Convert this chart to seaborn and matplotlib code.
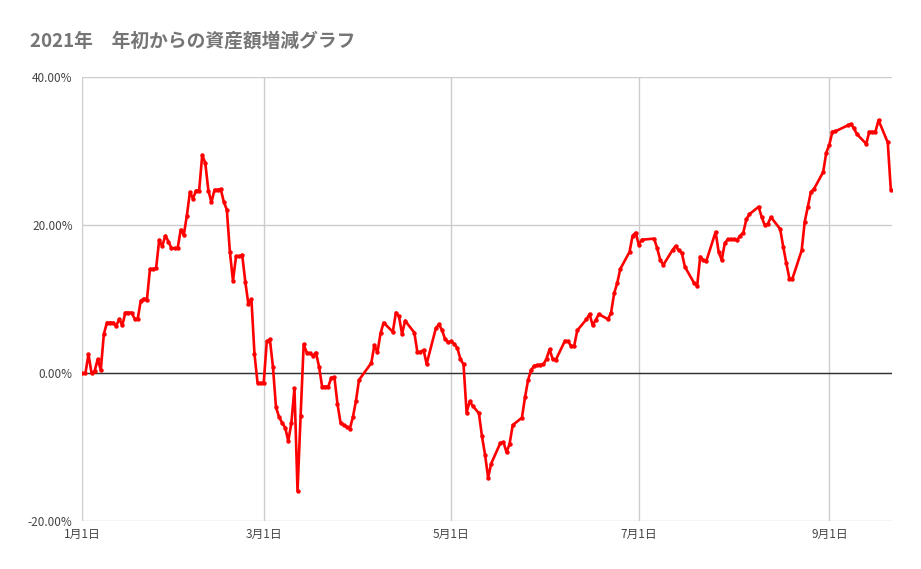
import pandas as pd
import numpy as np
import seaborn as sns
import matplotlib.pyplot as plt
import matplotlib.dates as mdates
from matplotlib.ticker import FuncFormatter

# days since 2021-01-01 and the change in assets (%)
days = [0, 1, 2, 3, 4, 5, 6, 7, 8, 9, 10, 11, 12, 13, 14, 15, 16, 17, 18, 19,
        20, 21, 22, 23, 24, 25, 26, 27, 28, 29, 30, 31, 32, 33, 34, 35, 36, 37, 38, 39,
        40, 41, 42, 43, 44, 45, 46, 47, 48, 49, 50, 51, 52, 53, 54, 55, 56, 57, 58, 59,
        60, 61, 62, 63, 64, 65, 66, 67, 68, 69, 70, 71, 72, 73, 74, 75, 76, 77, 78, 79,
        80, 81, 82, 83, 84, 85, 86, 87, 88, 89, 90, 94, 95, 96, 97, 98, 101, 102, 103, 104,
        105, 108, 109, 110, 111, 112, 115, 116, 117, 118, 119, 120, 121, 122, 123, 124, 125, 126, 127, 129,
        130, 131, 132, 133, 136, 137, 138, 139, 140, 143, 144, 145, 146, 147, 148, 149, 150, 151, 152, 153,
        154, 157, 158, 159, 160, 161, 164, 165, 166, 167, 168, 171, 172, 173, 174, 175, 178, 179, 180, 181,
        182, 186, 187, 188, 189, 192, 193, 194, 195, 196, 199, 200, 201, 202, 203, 206, 207, 208, 209, 210,
        211, 212, 213, 214, 215, 216, 217, 220, 221, 222, 223, 224, 227, 228, 229, 230, 231, 234, 235, 236,
        237, 238, 241, 242, 243, 244, 245, 249, 250, 251, 252, 255, 256, 257, 258, 259, 262, 263]
change = [0.0, 0.0, 2.57, 0.0, 0.3, 1.9, 0.45, 5.3, 6.85, 6.85, 6.85, 6.4, 7.3, 6.5, 8.2, 8.2, 8.2, 7.4, 7.3, 9.8,
          10.1, 9.9, 14.1, 14.1, 14.2, 18.0, 17.2, 18.6, 17.8, 16.9, 16.9, 16.9, 19.4, 18.7, 21.3, 24.5, 23.6, 24.7, 24.7, 29.5,
          28.4, 24.7, 23.1, 24.8, 24.8, 24.9, 23.2, 22.1, 16.4, 12.5, 15.8, 15.8, 16.0, 12.4, 9.4, 10.0, 2.6, -1.3, -1.3, -1.3,
          4.3, 4.6, 0.9, -4.6, -5.9, -6.7, -7.35, -9.15, -6.7, -2.0, -15.9, -5.8, 3.9, 2.8, 2.7, 2.4, 2.8, 0.9, -1.8, -1.8,
          -1.8, -0.6, -0.55, -4.15, -6.7, -7.0, -7.2, -7.5, -5.95, -3.75, -0.9, 1.4, 3.8, 2.83, 5.4, 6.84, 5.6, 8.2, 7.7, 5.3,
          7.1, 5.5, 2.83, 2.9, 3.15, 1.26, 6.1, 6.6, 5.85, 4.6, 4.2, 4.3, 3.96, 3.4, 1.9, 1.2, -5.3, -3.8, -4.4, -5.4,
          -8.5, -11.0, -14.1, -12.2, -9.4, -9.3, -10.7, -9.5, -7.0, -6.0, -3.25, -0.9, 0.45, 1.0, 1.08, 1.17, 1.2, 2.0, 3.25, 1.9,
          1.8, 4.4, 4.3, 3.7, 3.7, 5.8, 7.3, 8.0, 6.5, 7.2, 8.0, 7.3, 8.2, 10.8, 12.2, 14.1, 16.4, 18.6, 19.0, 17.4,
          18.05, 18.2, 16.9, 15.3, 14.65, 16.66, 17.2, 16.6, 16.3, 14.4, 12.2, 11.8, 15.76, 15.3, 15.2, 19.1, 16.4, 15.3, 17.6, 18.1,
          18.1, 18.1, 18.0, 18.6, 19.0, 20.8, 21.5, 22.5, 21.1, 20.0, 20.2, 21.1, 19.5, 17.1, 14.9, 12.8, 12.8, 16.6, 20.5, 22.5,
          24.5, 24.9, 27.2, 29.8, 30.9, 32.65, 32.7, 33.5, 33.7, 33.1, 32.3, 31.0, 32.65, 32.6, 32.65, 34.2, 31.2, 24.8]

start = pd.Timestamp('2021-01-01')
df = pd.DataFrame({'date': start + pd.to_timedelta(days, unit='D'), 'change': change})

sns.set_theme(style='white')
plt.rcParams['font.family'] = ['Noto Sans CJK JP', 'DejaVu Sans']

fig = plt.figure(figsize=(9.21, 5.69), dpi=100)
ax = fig.add_axes([0.0894, 0.0838, 0.8795, 0.7804])

ax.axhline(0, color='#333333', linewidth=1, zorder=1)
sns.lineplot(data=df, x='date', y='change', ax=ax, color='#ff0000', linewidth=1.9,
             marker='o', markersize=3.2, markeredgewidth=0, zorder=3)

ax.set_ylim(-20, 40)
ax.set_yticks([-20, 0, 20, 40])
ax.yaxis.set_major_formatter(FuncFormatter(lambda v, p: f'{v:.2f}%'))
ax.set_xlim(start, start + pd.Timedelta(days=263.5))
ax.xaxis.set_major_locator(mdates.MonthLocator(bymonth=[1, 3, 5, 7, 9]))
ax.xaxis.set_major_formatter(FuncFormatter(lambda v, p: f'{mdates.num2date(v).month}月{mdates.num2date(v).day}日'))

ax.grid(True, color='#cccccc', linewidth=1)
ax.set_axisbelow(True)
for s in ax.spines.values():
    s.set_visible(False)
ax.tick_params(axis='both', length=0, labelsize=8.5, labelcolor='#444444')
ax.tick_params(axis='y', pad=7)
ax.tick_params(axis='x', pad=5)
ax.set_xlabel('')
ax.set_ylabel('')

fig.text(0.0326, 0.928, '2021年\u3000年初からの資産額増減グラフ', fontsize=13.5, fontweight='bold',
         color='#757575', ha='left', va='center')

fig.savefig('out.png', dpi=100)
